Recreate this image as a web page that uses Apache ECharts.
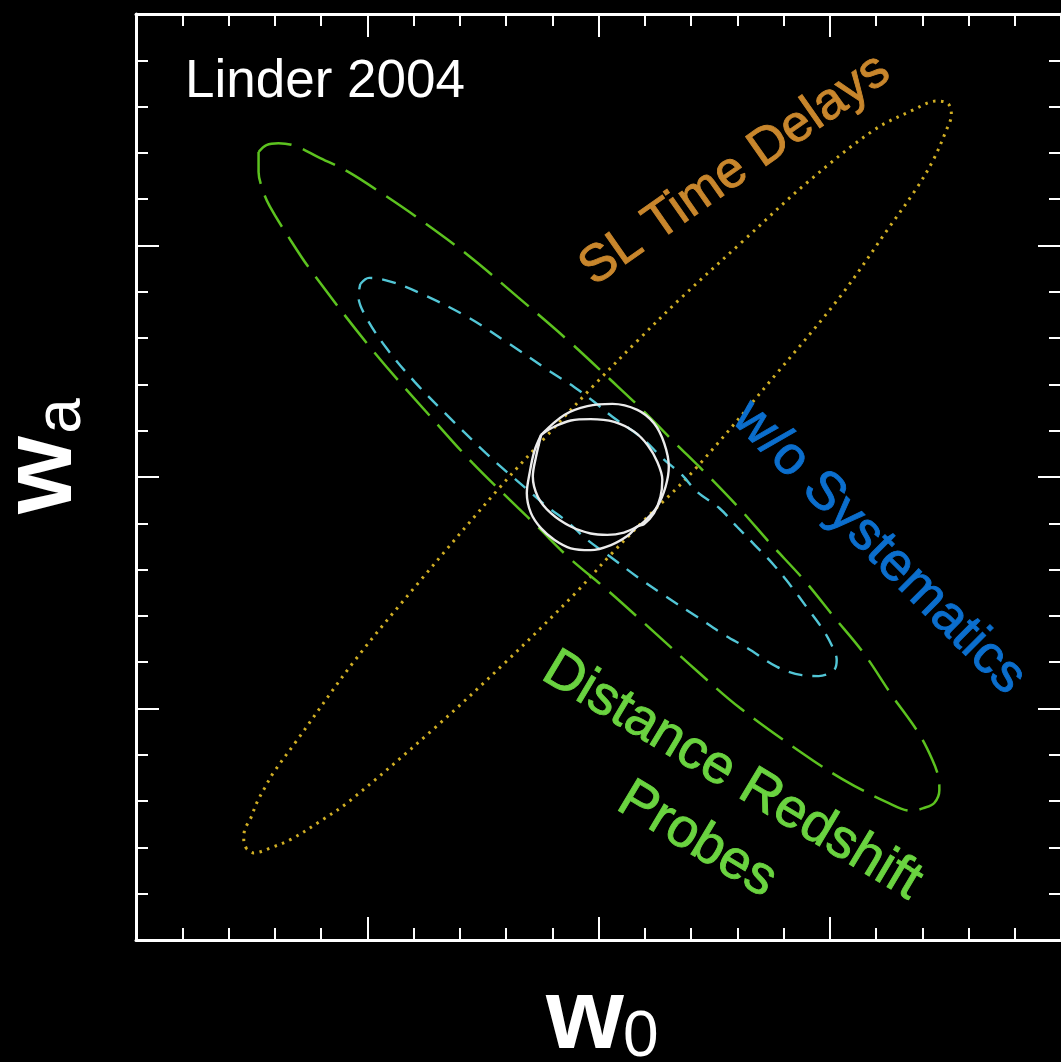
<!DOCTYPE html>
<html>
<head>
<meta charset="utf-8">
<script src="https://cdn.jsdelivr.net/npm/echarts@6/dist/echarts.min.js"></script>
<style>
  html, body { margin: 0; padding: 0; background: #000; }
  #chart { width: 1061px; height: 1062px; }
</style>
</head>
<body>
<div id="chart"></div>
<script>
// ---- axis settings (units: w0 and wa offsets, one minor tick = 1 unit) ----
const axisMin = -10;
const axisMax = 10;
const majorInterval = 5;
const minorSplit = 5;

// ---- contours, [w0, wa] ----
const distanceRedshiftContour = [
  [-7.35, 7.02], [-7.18, 7.17], [-6.92, 7.21], [-6.55, 7.15], [-6.06, 6.91], [-5.41, 6.59],
  [-4.66, 6.11], [-3.90, 5.59], [-2.82, 4.79], [-1.75, 3.89], [-0.67, 2.96], [0.26, 2.10],
  [0.95, 1.45], [1.59, 0.80], [2.31, 0.09], [3.04, -0.67], [3.71, -1.43], [4.44, -2.22],
  [5.09, -3.02], [5.73, -3.80], [6.34, -4.71], [6.92, -5.53], [7.22, -6.11], [7.35, -6.48],
  [7.37, -6.76], [7.26, -7.04], [7.03, -7.15], [6.77, -7.21], [6.23, -7.02], [5.30, -6.54],
  [4.40, -5.96], [3.06, -4.99], [2.13, -4.19], [1.06, -3.22], [0.19, -2.44], [-0.63, -1.75],
  [-1.31, -1.08], [-1.85, -0.56], [-2.72, 0.30], [-3.45, 1.10], [-4.87, 2.72], [-6.21, 4.45],
  [-6.70, 5.18], [-7.11, 5.85], [-7.26, 6.20], [-7.35, 6.59], [-7.35, 7.02]
];

const withoutSystematicsContour = [
  [-5.15, 4.17], [-4.96, 4.30], [-4.46, 4.21], [-3.81, 3.95], [-2.84, 3.46], [-1.92, 2.87],
  [-1.03, 2.27], [-0.52, 1.94], [-0.09, 1.62], [0.30, 1.30], [0.65, 1.06], [0.99, 0.80],
  [1.38, 0.41], [1.81, 0.04], [2.13, -0.32], [2.61, -0.67], [3.00, -1.08], [3.38, -1.47],
  [3.79, -1.90], [4.18, -2.38], [4.50, -2.81], [4.83, -3.26], [5.04, -3.63], [5.15, -3.95],
  [5.09, -4.17], [4.76, -4.30], [4.40, -4.28], [3.86, -4.10], [3.21, -3.69], [2.72, -3.41],
  [2.13, -3.02], [1.38, -2.53], [0.84, -2.16], [0.24, -1.71], [-0.24, -1.36], [-0.67, -0.97],
  [-1.10, -0.65], [-1.53, -0.28], [-1.96, 0.09], [-2.44, 0.52], [-3.21, 1.27], [-3.97, 2.05],
  [-4.59, 2.79], [-5.04, 3.48], [-5.19, 3.91], [-5.15, 4.17]
];

const slTimeDelayContour = [
  [-7.61, -8.03], [-7.67, -7.84], [-7.65, -7.62], [-7.52, -7.37], [-7.39, -7.04], [-7.22, -6.72],
  [-7.03, -6.39], [-6.53, -5.70], [-5.26, -3.95], [-3.88, -2.27], [-2.13, -0.22], [-1.10, 0.91],
  [-0.09, 1.99], [0.84, 2.94], [1.81, 3.89], [3.15, 5.12], [4.50, 6.35], [5.95, 7.49],
  [6.81, 7.93], [7.31, 8.12], [7.56, 8.06], [7.63, 7.82], [7.52, 7.49], [7.24, 6.85],
  [6.88, 6.24], [6.29, 5.40], [5.22, 3.89], [3.88, 2.27], [2.07, 0.15], [0.99, -0.93],
  [0.26, -1.68], [-0.50, -2.51], [-2.03, -4.02], [-3.62, -5.49], [-5.41, -7.02], [-6.01, -7.43],
  [-6.64, -7.82], [-7.09, -8.01], [-7.46, -8.12], [-7.61, -8.03]
];

const combinedContourA = [
  [-1.24, 0.91], [-0.74, 1.34], [-0.24, 1.53], [0.30, 1.58], [0.84, 1.45], [1.20, 1.16],
  [1.42, 0.73], [1.52, 0.22], [1.45, -0.21], [1.27, -0.64], [0.98, -0.97], [0.84, -1.07],
  [0.55, -1.20], [0.19, -1.25], [-0.17, -1.22], [-0.60, -1.07], [-1.03, -0.78], [-1.31, -0.43],
  [-1.42, 0.01], [-1.35, 0.44], [-1.24, 0.91]
];

const combinedContourB = [
  [-1.24, 0.91], [-1.03, 1.05], [-0.60, 1.22], [-0.17, 1.25], [0.34, 1.19], [0.77, 0.98],
  [1.06, 0.69], [1.27, 0.33], [1.38, -0.06], [1.34, -0.43], [1.20, -0.78], [0.98, -1.02],
  [0.84, -1.07], [0.63, -1.27], [0.27, -1.47], [-0.17, -1.58], [-0.60, -1.54], [-0.95, -1.36],
  [-1.24, -1.11], [-1.46, -0.78], [-1.55, -0.35], [-1.49, 0.08], [-1.39, 0.55], [-1.24, 0.91]
];

// ---- build chart ----
const FONT = '"Liberation Sans", Arial, Helvetica, sans-serif';

function makeAxis(position) {
  return {
    type: 'value',
    position: position,
    min: axisMin,
    max: axisMax,
    interval: majorInterval,
    axisLine: { show: true, onZero: false, lineStyle: { color: '#ffffff', width: 3 } },
    axisTick: { show: true, inside: true, length: 23, lineStyle: { color: '#ffffff', width: 2 } },
    minorTick: { show: true, splitNumber: minorSplit, length: 12, lineStyle: { color: '#ffffff', width: 2 } },
    axisLabel: { show: false },
    splitLine: { show: false },
    minorSplitLine: { show: false }
  };
}

function contourSeries(name, data, color, width, dash, z) {
  return {
    name: name,
    type: 'line',
    data: data,
    symbol: 'none',
    showSymbol: false,
    smooth: 0.35,
    z: z,
    lineStyle: { color: color, width: width, type: dash },
    emphasis: { disabled: true },
    animation: false
  };
}

function label(text, x, y, deg, color, size) {
  return {
    type: 'text', x: x, y: y, rotation: deg * Math.PI / 180, z: 10,
    style: {
      text: text, fill: color, stroke: color, lineWidth: 0.9,
      fontSize: size, fontFamily: FONT, align: 'center', verticalAlign: 'middle'
    }
  };
}

const chart = echarts.init(document.getElementById('chart'), null, { renderer: 'canvas' });

chart.setOption({
  backgroundColor: '#000000',
  animation: false,
  grid: { left: 136, top: 14, width: 928, height: 926, containLabel: false },
  xAxis: [makeAxis('bottom'), makeAxis('top')],
  yAxis: [makeAxis('left'), makeAxis('right')],
  series: [
    contourSeries('SL Time Delays', slTimeDelayContour, '#d0ae24', 3, [2.5, 5.5], 2),
    contourSeries('Distance Redshift Probes', distanceRedshiftContour, '#5cc21f', 2.5, [36, 12], 3),
    contourSeries('w/o Systematics', withoutSystematicsContour, '#52c6d6', 2.4, [14, 10], 4),
    contourSeries('Combined A', combinedContourA, '#ececec', 2.4, 'solid', 5),
    contourSeries('Combined B', combinedContourB, '#ececec', 2.4, 'solid', 5)
  ],
  graphic: [
    { type: 'text', x: 185, y: 82, z: 10,
      style: { text: 'Linder 2004', fill: '#ffffff', fontSize: 53, fontFamily: FONT, align: 'left', verticalAlign: 'middle' } },
    label('SL Time Delays', 735, 170, 35, '#c8862c', 52),
    label('w/o Systematics', 879, 548, -45, '#0b6ecd', 54),
    label('Distance Redshift', 732, 776, -31, '#6ad340', 55),
    label('Probes', 697, 840, -31, '#6ad340', 55),
    // x-axis title w0
    { type: 'text', x: 585, y: 1020, z: 10,
      style: { text: 'w', fill: '#ffffff', fontSize: 100, fontWeight: 'bold', fontFamily: FONT, align: 'center', verticalAlign: 'middle' } },
    { type: 'text', x: 623, y: 1038, z: 10,
      style: { text: '0', fill: '#ffffff', fontSize: 64, fontFamily: FONT, align: 'left', verticalAlign: 'middle' } },
    // y-axis title wa
    { type: 'text', x: 43, y: 475, rotation: Math.PI / 2, z: 10,
      style: { text: 'w', fill: '#ffffff', fontSize: 100, fontWeight: 'bold', fontFamily: FONT, align: 'center', verticalAlign: 'middle' } },
    { type: 'text', x: 62, y: 416, rotation: Math.PI / 2, z: 10,
      style: { text: 'a', fill: '#ffffff', fontSize: 64, fontFamily: FONT, align: 'center', verticalAlign: 'middle' } }
  ]
});
</script>
</body>
</html>
